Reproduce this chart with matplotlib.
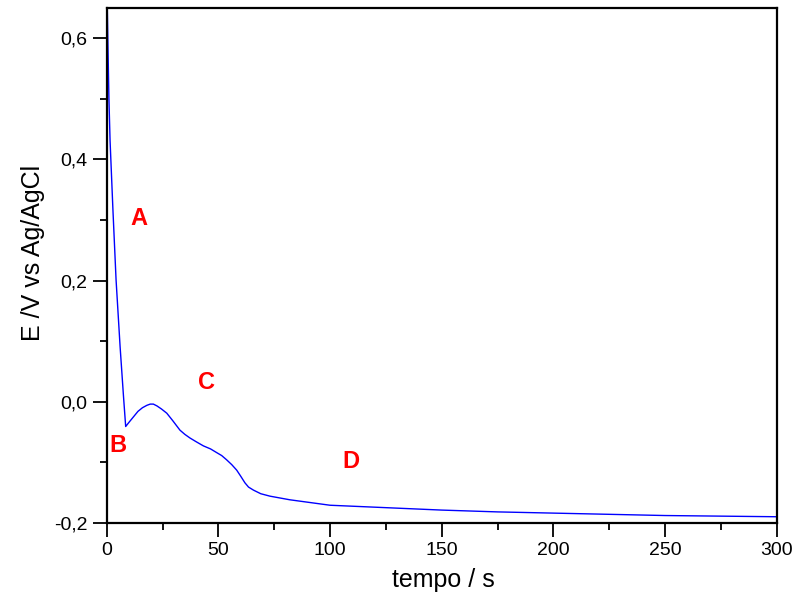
import matplotlib
matplotlib.use("Agg")
import matplotlib.pyplot as plt
from matplotlib.ticker import MultipleLocator, FuncFormatter

# Data (time in s, potential in V vs Ag/AgCl)
t = [0.0, 0.27, 0.6, 1.0, 1.5, 2.8, 4.2, 6.0, 7.5, 8.5, 10.0, 12.0, 14.0,
     16.0, 18.0, 19.5, 20.9, 22.5, 24.5, 26.9, 29.5, 32.8, 35.0, 37.3, 40.0,
     43.3, 46.5, 49.2, 51.5, 53.7, 56.0, 58.2, 60.0, 61.9, 63.5, 65.7, 69.0,
     73.1, 82.0, 90.0, 100.0, 125.0, 150.0, 175.0, 200.0, 225.0, 250.0,
     275.0, 300.0]
E = [0.66, 0.65, 0.58, 0.50, 0.432, 0.316, 0.201, 0.091, 0.010, -0.041,
     -0.034, -0.025, -0.016, -0.010, -0.006, -0.004, -0.004, -0.007, -0.012,
     -0.019, -0.031, -0.047, -0.054, -0.060, -0.066, -0.073, -0.078, -0.084,
     -0.089, -0.096, -0.104, -0.113, -0.123, -0.134, -0.141, -0.146, -0.152,
     -0.156, -0.162, -0.166, -0.171, -0.175, -0.179, -0.182, -0.184, -0.186,
     -0.188, -0.189, -0.190]

labels = ["A", "B", "C", "D"]
label_t = [14.5, 5.0, 44.5, 109.4]
label_E = [0.303, -0.073, 0.031, -0.098]

plt.rcParams['font.family'] = ['Liberation Sans', 'DejaVu Sans']

fig = plt.figure(figsize=(7.98, 6.03), dpi=100)
ax = fig.add_axes([0.1337, 0.133, 0.9733 - 0.1337, 0.9867 - 0.133])

ax.plot(t, E, color='#0000ff', lw=1.0)
for lab, xt, ye in zip(labels, label_t, label_E):
    ax.text(xt, ye, lab, color='#ff0000', fontsize=17, fontweight='bold',
            ha='center', va='center')

ax.set_xlim(0, 300)
ax.set_ylim(-0.2, 0.65)
ax.xaxis.set_major_locator(MultipleLocator(50))
ax.xaxis.set_minor_locator(MultipleLocator(25))
ax.yaxis.set_major_locator(MultipleLocator(0.2))
ax.yaxis.set_minor_locator(MultipleLocator(0.1))
ax.yaxis.set_major_formatter(FuncFormatter(lambda v, p: f"{v:.1f}".replace('.', ',').replace('-0,0', '0,0')))

ax.tick_params(which='major', direction='out', length=10, width=1.3, labelsize=14, pad=4)
ax.tick_params(which='minor', direction='out', length=5, width=1.3)
for s in ax.spines.values():
    s.set_linewidth(1.6)

ax.set_xlabel("tempo / s", fontsize=18)
ax.set_ylabel("E /V vs Ag/AgCl", fontsize=18)
ax.xaxis.set_label_coords(0.503, -0.111)
ax.xaxis.label.set_va('center')
ax.yaxis.set_label_coords(-0.110, 0.524)
ax.yaxis.label.set_va('center')

fig.savefig("out.png", dpi=100)
